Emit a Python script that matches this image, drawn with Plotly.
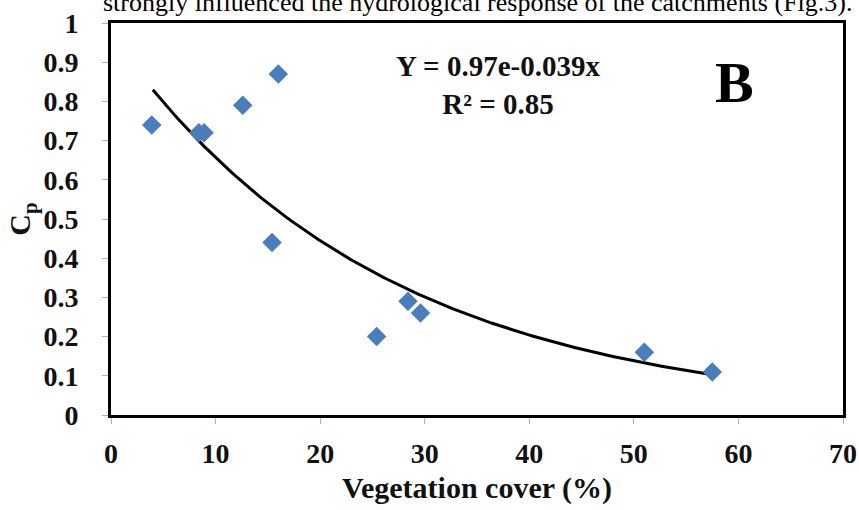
import numpy as np
import plotly.graph_objects as go

# Data
veg_cover = [3.9, 8.4, 8.9, 12.6, 16.0, 15.4, 25.4, 28.4, 29.6, 51.0, 57.5]
cp_values = [0.74, 0.72, 0.72, 0.79, 0.87, 0.44, 0.20, 0.29, 0.26, 0.16, 0.11]

# Fitted trendline coefficients (Y = a * exp(b x)) and its x span
fit_a = 0.97
fit_b = -0.039
fit_x_range = [4.0, 57.5]

x_ticks = [0, 10, 20, 30, 40, 50, 60, 70]
y_ticks = [0, 0.1, 0.2, 0.3, 0.4, 0.5, 0.6, 0.7, 0.8, 0.9, 1]

fit_x = np.linspace(fit_x_range[0], fit_x_range[1], 200)
fit_y = fit_a * np.exp(fit_b * fit_x)

serif = "Liberation Serif"

fig = go.Figure()
fig.add_trace(go.Scatter(
    x=fit_x, y=fit_y, mode="lines",
    line=dict(color="black", width=3),
    showlegend=False, hoverinfo="skip",
))
fig.add_trace(go.Scatter(
    x=veg_cover, y=cp_values, mode="markers",
    marker=dict(symbol="diamond", size=15, color="#4a7dbb",
                line=dict(width=0)),
    showlegend=False,
))

fig.update_layout(
    width=859, height=510,
    margin=dict(l=111, r=16, t=23, b=95),
    paper_bgcolor="white", plot_bgcolor="white",
    font=dict(family=serif, color="black"),
    xaxis=dict(
        range=[0, 70], tickvals=x_ticks, automargin=False,
        showgrid=False, zeroline=False,
        showline=True, linecolor="black", linewidth=3, mirror=True,
        ticks="outside", ticklen=6, tickcolor="#b0b0b0", tickwidth=1,
        ticklabelstandoff=5,
        tickfont=dict(family=serif, size=28, color="#111", weight="bold"),
        title=dict(text="Vegetation cover (%)",
                   font=dict(family=serif, size=30, color="#111", weight="bold"),
                   standoff=10),
    ),
    yaxis=dict(
        range=[0, 1], tickvals=y_ticks, automargin=False,
        showgrid=False, zeroline=False,
        showline=True, linecolor="black", linewidth=3, mirror=True,
        ticks="outside", ticklen=6, tickcolor="#b0b0b0", tickwidth=1,
        ticklabelstandoff=18,
        tickfont=dict(family=serif, size=28, color="#111", weight="bold"),
        title=dict(text="C<sub>p</sub>",
                   font=dict(family=serif, size=30, color="#111", weight="bold"),
                   standoff=4),
    ),
)

fig.add_annotation(
    xref="paper", yref="paper", x=0.529, y=0.842,
    xanchor="center", yanchor="middle",
    text="Y = 0.97e-0.039x<br>R² = 0.85",
    showarrow=False, align="center",
    font=dict(family=serif, size=29, color="#111", weight="bold"),
)
fig.add_annotation(
    xref="paper", yref="paper", x=0.852, y=0.849,
    xanchor="center", yanchor="middle",
    text="B", showarrow=False,
    font=dict(family=serif, size=58, color="black", weight="bold"),
)
# partially visible body text above the figure
fig.add_annotation(
    xref="paper", yref="paper", x=0.5, y=1.0102,
    xanchor="center", yanchor="bottom",
    text="strongly influenced the hydrological response of the catchments (Fig.3).",
    showarrow=False,
    font=dict(family=serif, size=26, color="black"),
)

fig.write_html("out.html")
